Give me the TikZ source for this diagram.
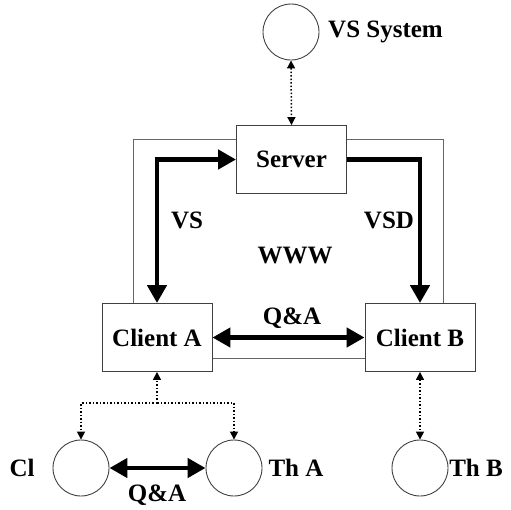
\documentclass[tikz,border=0pt]{standalone}
\usepackage{fontspec}
\setmainfont{Liberation Serif}
\usetikzlibrary{arrows.meta}
\begin{document}
\begin{tikzpicture}[x=1pt,y=-1pt,
  lbl/.style={font=\fontsize{25}{29}\selectfont\bfseries, inner sep=0pt},
  box/.style={draw=black!75, line width=0.9pt, fill=white, minimum width=110pt, minimum height=68pt, font=\fontsize{25}{29}\selectfont\bfseries},
  circ/.style={draw=black!75, line width=0.9pt, circle, minimum size=56pt, inner sep=0pt},
  frame/.style={draw=black!60, line width=0.9pt},
  thick arrow/.style={line width=4.5pt, -{Triangle[length=18pt,width=19pt]}},
  thick both/.style={line width=4.5pt, {Triangle[length=18pt,width=19pt]}-{Triangle[length=18pt,width=19pt]}},
  dot both/.style={line width=1.5pt, dotted, {Triangle[length=8pt,width=8pt]}-{Triangle[length=8pt,width=8pt]}},
  dot arrow/.style={line width=1.5pt, dotted, -{Triangle[length=8pt,width=8pt]}},
  dot line/.style={line width=1.5pt, dotted}]
\useasboundingbox (0,0) rectangle (511,509);
% frame behind boxes
\draw[frame] (133,139) rectangle (443,358);
% nodes
\node[box] (server) at (291.5,159.5) {Server};
\node[box] (clientA) at (157,337.5) {Client A};
\node[box] (clientB) at (420,337.5) {Client B};
\node[circ] (vs) at (291,32) {};
\node[circ] (cl) at (81,468) {};
\node[circ] (tha) at (234,468) {};
\node[circ] (thb) at (420,468) {};
\coordinate (split) at (157,403);
% labels
\node[lbl, anchor=west] (vslabel) at (328,32) {VS System};
\node[lbl] (vsl) at (187,220) {VS};
\node[lbl] (vsdl) at (389,220) {VSD};
\node[lbl] (www) at (295,255) {WWW};
\node[lbl] (qa1) at (292,318) {Q\&A};
\node[lbl] (cll) at (22,468) {Cl};
\node[lbl] (thal) at (296,468) {Th A};
\node[lbl] (thbl) at (476,468) {Th B};
\node[lbl] (qa2) at (157,495) {Q\&A};
% thick connectors
\draw[thick both] (server.west) -| (clientA.north);
\draw[thick arrow] (server.east) -| (clientB.north);
\draw[thick both] (clientA.east) -- (clientB.west);
\draw[thick both] (cl.east) -- (tha.west);
% dotted connectors
\draw[dot both] (vs.south) -- (server.north);
\draw[dot arrow] (split) -- (clientA.south);
\draw[dot arrow] (split) -| (cl.north);
\draw[dot arrow] (split) -| (tha.north);
\draw[dot both] (clientB.south) -- (thb.north);
\end{tikzpicture}
\end{document}
